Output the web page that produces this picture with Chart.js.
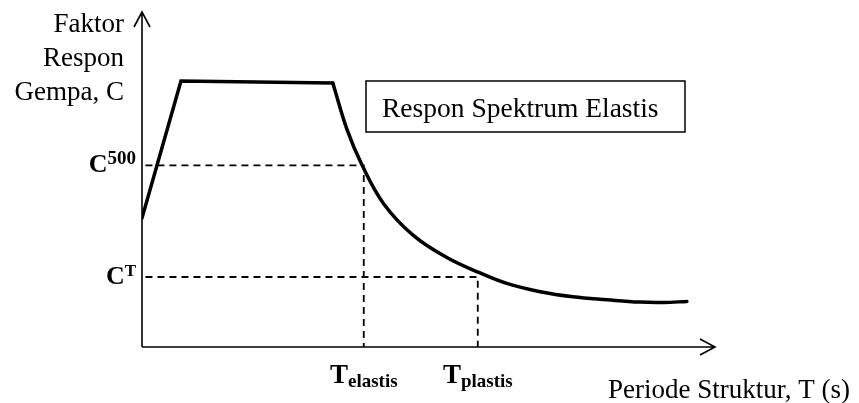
<!DOCTYPE html>
<html>
<head>
<meta charset="utf-8">
<title>Respon Spektrum Elastis</title>
<script src="https://cdn.jsdelivr.net/npm/chart.js@4/dist/chart.umd.min.js"></script>
<style>
  html, body { margin: 0; padding: 0; background: #fff; }
  canvas { display: block; }
</style>
</head>
<body>
<canvas id="spectrumChart" width="859" height="403"></canvas>
<script>
// Periode struktur T (arbitrary units, axis 0..10) and faktor respon gempa C (axis 0..10)
const periods = [0, 0.68, 3.33, 3.58, 3.84, 4.22, 4.73, 5.32, 5.90, 6.38, 6.95, 7.52, 8.12, 8.69, 9.10, 9.51];
const responses = [3.85, 7.94, 7.88, 6.48, 5.43, 4.27, 3.34, 2.67, 2.21, 1.89, 1.65, 1.50, 1.41, 1.34, 1.33, 1.36];
const plateauEnd = 2; // index where the descending branch starts

// marked levels
const levelNames = ['500', 'T'];
const levelValues = [5.42, 2.09];
const periodNames = ['elastis', 'plastis'];
const periodValues = [3.87, 5.86];

const yTitle = ['Faktor', 'Respon', 'Gempa, C'];
const xTitle = 'Periode Struktur, T (s)';
const legendText = 'Respon Spektrum Elastis';

document.addEventListener('DOMContentLoaded', function () {
  const canvas = document.getElementById('spectrumChart');

  const points = periods.map((t, i) => ({ x: t, y: responses[i] }));

  // dashed guides: from the C axis over to T, then down to the T axis
  const guides = levelValues.map((c, i) => ({
    data: [{ x: 0.06, y: c }, { x: periodValues[i], y: c }, { x: periodValues[i], y: 0 }],
    borderColor: '#000',
    borderWidth: 1.8,
    borderDash: [7, 5],
    pointRadius: 0,
    tension: 0,
    clip: false
  }));

  const serif = '"Liberation Serif", "Times New Roman", serif';

  const annotate = {
    id: 'annotate',
    beforeDatasetsDraw(chart) {
      const ctx = chart.ctx;
      const a = chart.chartArea;
      ctx.save();
      ctx.strokeStyle = '#000';
      ctx.lineWidth = 1.6;
      ctx.lineCap = 'butt';
      // y axis with open arrow
      ctx.beginPath();
      ctx.moveTo(a.left, a.bottom);
      ctx.lineTo(a.left, a.top);
      ctx.moveTo(a.left - 8, a.top + 15);
      ctx.lineTo(a.left, a.top);
      ctx.lineTo(a.left + 8, a.top + 15);
      // x axis with open arrow
      ctx.moveTo(a.left, a.bottom);
      ctx.lineTo(a.right, a.bottom);
      ctx.moveTo(a.right - 15, a.bottom - 8);
      ctx.lineTo(a.right, a.bottom);
      ctx.lineTo(a.right - 15, a.bottom + 8);
      ctx.stroke();
      ctx.restore();
    },
    afterDraw(chart) {
      const ctx = chart.ctx;
      const a = chart.chartArea;
      const xs = chart.scales.x;
      const ys = chart.scales.y;
      ctx.save();
      ctx.fillStyle = '#000';
      ctx.textBaseline = 'alphabetic';

      // y axis title
      ctx.font = '27px ' + serif;
      ctx.textAlign = 'right';
      yTitle.forEach((line, i) => ctx.fillText(line, a.left - 18, 32 + i * 34));

      // x axis title
      ctx.textAlign = 'left';
      ctx.fillText(xTitle, 608, 398);

      // C levels
      levelNames.forEach((name, i) => {
        const py = ys.getPixelForValue(levelValues[i]);
        const supFont = 'bold ' + (name.length > 1 ? 19 : 17) + 'px ' + serif;
        ctx.font = supFont;
        const supW = ctx.measureText(name).width;
        ctx.font = 'bold 26px ' + serif;
        const cW = ctx.measureText('C').width;
        const right = a.left - 6;
        ctx.textAlign = 'left';
        ctx.fillText('C', right - supW - cW, py + 7);
        ctx.font = supFont;
        ctx.fillText(name, right - supW, py - 1);
      });

      // T marks
      periodNames.forEach((name, i) => {
        const px = xs.getPixelForValue(periodValues[i]);
        ctx.font = 'bold 27px ' + serif;
        const tW = ctx.measureText('T').width;
        ctx.font = 'bold 19px ' + serif;
        const subW = ctx.measureText(name).width;
        const left = px - (tW + subW) / 2;
        ctx.textAlign = 'left';
        ctx.font = 'bold 27px ' + serif;
        ctx.fillText('T', left, 383);
        ctx.font = 'bold 19px ' + serif;
        ctx.fillText(name, left + tW, 387);
      });

      // legend box
      ctx.lineWidth = 1.5;
      ctx.strokeStyle = '#000';
      ctx.strokeRect(366, 81, 319, 51);
      ctx.font = '27.5px ' + serif;
      ctx.textAlign = 'left';
      ctx.fillText(legendText, 382, 117);
      ctx.restore();
    }
  };

  new Chart(canvas, {
    type: 'line',
    data: {
      datasets: [
        {
          data: points.slice(0, plateauEnd + 1),
          borderColor: '#000',
          borderWidth: 3.5,
          borderJoinStyle: 'miter',
          borderCapStyle: 'round',
          pointRadius: 0,
          tension: 0
        },
        {
          data: points.slice(plateauEnd),
          borderColor: '#000',
          borderWidth: 3.5,
          borderCapStyle: 'round',
          pointRadius: 0,
          tension: 0.4
        },
        ...guides
      ]
    },
    options: {
      responsive: false,
      animation: false,
      layout: {
        padding: { left: 142, right: 859 - 715, top: 12, bottom: 403 - 347 }
      },
      scales: {
        x: { type: 'linear', min: 0, max: 10, display: false },
        y: { type: 'linear', min: 0, max: 10, display: false }
      },
      plugins: {
        legend: { display: false },
        tooltip: { enabled: false }
      }
    },
    plugins: [annotate]
  });
});
</script>
</body>
</html>
